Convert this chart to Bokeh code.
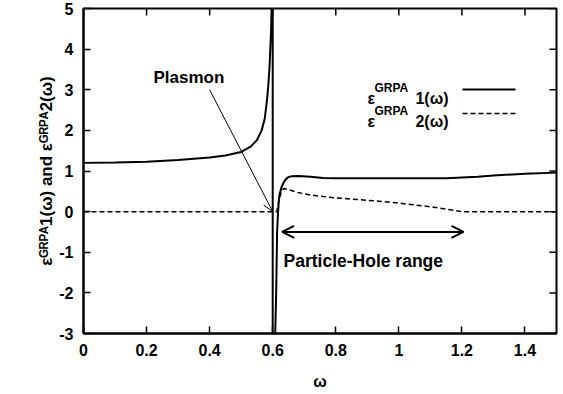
import math
from bokeh.plotting import figure
from bokeh.models import Range1d, FixedTicker, Label, Arrow, OpenHead
from bokeh.embed import file_html
from bokeh.resources import INLINE

# ---------------- data ----------------
eps1_w = [0.0, 0.1, 0.2, 0.3, 0.4, 0.45, 0.5, 0.53, 0.55, 0.565, 0.575, 0.582,
          0.586, 0.59, 0.593, 0.595, 0.597, 0.599, 0.6,
          0.6, 0.605, 0.608, 0.611, 0.614, 0.617, 0.621, 0.628, 0.635, 0.642,
          0.65, 0.66, 0.68, 0.72, 0.76, 0.8, 0.9, 1.0, 1.1, 1.15, 1.2, 1.25,
          1.3, 1.4, 1.5]
eps1_v = [1.2, 1.21, 1.23, 1.27, 1.33, 1.38, 1.47, 1.6, 1.76, 2.0, 2.3, 2.75,
          3.1, 3.57, 4.1, 4.5, 5.2, 8.0, 40.0,
          -40.0, -6.0, -3.0, -2.0, -0.5, 0.0, 0.4, 0.6, 0.72, 0.8,
          0.85, 0.87, 0.875, 0.86, 0.83, 0.82, 0.82, 0.82, 0.82, 0.82, 0.84, 0.86,
          0.89, 0.93, 0.96]

eps2_w = [0.0, 0.6, 0.613, 0.62, 0.628, 0.635, 0.65, 0.68, 0.72, 0.76, 0.8,
          0.9, 1.0, 1.1, 1.15, 1.2, 1.5]
eps2_v = [0.0, 0.0, 0.0, 0.3, 0.5, 0.57, 0.54, 0.47, 0.41, 0.37, 0.34,
          0.28, 0.21, 0.12, 0.06, 0.0, 0.0]

x_ticks = [0, 0.2, 0.4, 0.6, 0.8, 1.0, 1.2, 1.4]
x_tick_labels = ["0", "0.2", "0.4", "0.6", "0.8", "1", "1.2", "1.4"]
y_ticks = [-3, -2, -1, 0, 1, 2, 3, 4, 5]
y_tick_labels = ["-3", "-2", "-1", "0", "1", "2", "3", "4", "5"]

FONT = "Liberation Sans"
X0, X1, Y0, Y1 = 0.0, 1.5, -3.0, 5.0

# frame placement in pixels
FL, FR, FT, FB = 83, 556, 8, 333
TICK = 7  # inward tick length, px
def dx(px):
    return X0 + (px - FL) / (FR - FL) * (X1 - X0)
def dy(py):
    return Y1 - (py - FT) / (FB - FT) * (Y1 - Y0)

p = figure(width=563, height=394, output_backend="svg", toolbar_location=None,
           x_range=Range1d(X0, X1), y_range=Range1d(Y0, Y1),
           min_border_left=FL, min_border_right=563 - FR,
           min_border_top=FT, min_border_bottom=394 - FB)
p.background_fill_color = "white"
p.border_fill_color = "white"
p.grid.visible = False
p.outline_line_color = "black"
p.outline_line_width = 2

def style_axis(ax, ticks, labels):
    ax.ticker = FixedTicker(ticks=ticks)
    ax.major_label_overrides = {t: l for t, l in zip(ticks, labels)}
    ax.major_tick_in = TICK
    ax.major_tick_out = 0
    ax.major_tick_line_width = 1.5
    ax.major_tick_line_color = "black"
    ax.minor_tick_line_color = None
    ax.axis_line_color = "black"
    ax.axis_line_width = 2
    ax.major_label_text_font = FONT
    ax.major_label_text_font_style = "bold"
    ax.major_label_text_color = "black"
    ax.major_label_text_font_size = "16px"
    ax.axis_label_text_font = FONT
    ax.axis_label_text_font_style = "bold"
    ax.axis_label_text_color = "black"

style_axis(p.xaxis[0], x_ticks, x_tick_labels)
style_axis(p.yaxis[0], y_ticks, y_tick_labels)
p.xaxis[0].major_label_standoff = 10
p.yaxis[0].major_label_standoff = 10
p.xaxis[0].axis_label = "ω"
p.xaxis[0].axis_label_text_font_size = "16px"
p.xaxis[0].axis_label_standoff = 14
p.yaxis[0].axis_label = "εᴳᴿᴾᴬ1(ω) and εᴳᴿᴾᴬ2(ω)"
p.yaxis[0].axis_label_text_font_size = "17px"
p.yaxis[0].axis_label_standoff = 0

# mirrored tick marks on the top and right edges
tx = (X1 - X0) * TICK / (FR - FL)
ty = (Y1 - Y0) * TICK / (FB - FT)
p.segment(x0=x_ticks, y0=[Y1] * len(x_ticks), x1=x_ticks, y1=[Y1 - ty] * len(x_ticks),
          line_color="black", line_width=1.5)
p.segment(x0=[X1] * len(y_ticks), y0=y_ticks, x1=[X1 - tx] * len(y_ticks), y1=y_ticks,
          line_color="black", line_width=1.5)

# curves
p.line(eps1_w, eps1_v, line_color="black", line_width=2)
p.line(eps2_w, eps2_v, line_color="black", line_width=1.5, line_dash="5 3")

# legend samples
p.segment(x0=[dx(462)], y0=[dy(89)], x1=[dx(515)], y1=[dy(89)],
          line_color="black", line_width=2)
p.segment(x0=[dx(462)], y0=[dy(113)], x1=[dx(515)], y1=[dy(113)],
          line_color="black", line_width=1.5, line_dash="5 3")

def lab(px, py, text, size, align="left"):
    p.add_layout(Label(x=px - FL, y=FB - py, x_units="screen", y_units="screen",
                       text=text, text_font=FONT, text_font_style="bold",
                       text_font_size=size, text_color="black",
                       text_align=align, text_baseline="alphabetic"))

# legend texts
lab(367, 98, "ε", "16px")
lab(374, 87, "GRPA", "12px")
lab(448, 98, "1(ω)", "16px", align="right")
lab(367, 121, "ε", "16px")
lab(374, 110, "GRPA", "12px")
lab(448, 121, "2(ω)", "16px", align="right")

# annotations
lab(153, 77, "Plasmon", "17px")
p.add_layout(Arrow(end=OpenHead(size=10, line_width=1, line_color="black"),
                   x_start=0.4, y_start=3.0, x_end=0.6, y_end=0.0,
                   line_color="black", line_width=1))
p.add_layout(Arrow(start=OpenHead(size=12, line_width=2, line_color="black"),
                   end=OpenHead(size=12, line_width=2, line_color="black"),
                   x_start=0.63, y_start=-0.5, x_end=1.205, y_end=-0.5,
                   line_color="black", line_width=2))
lab(283, 260, "Particle-Hole range", "17.5px")

open("out.html", "w").write(file_html(p, INLINE))
